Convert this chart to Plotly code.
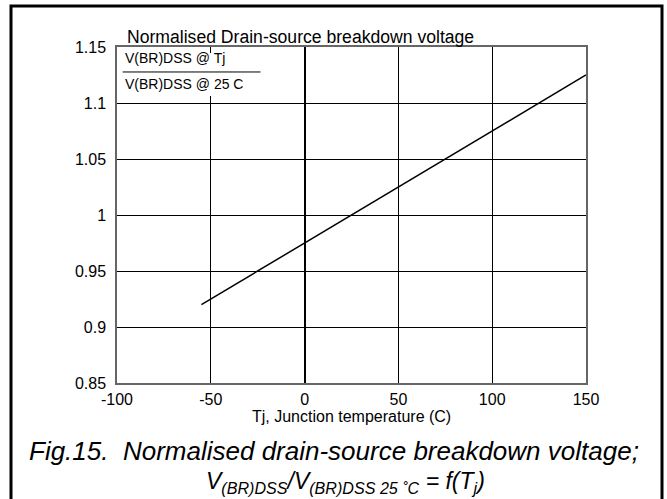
import plotly.graph_objects as go

# Data
temp_c = [-55, 150]
ratio = [0.92, 1.125]
x_ticks = [-100, -50, 0, 50, 100, 150]
x_tick_labels = ["-100", "-50", "0", "50", "100", "150"]
y_ticks = [0.85, 0.9, 0.95, 1.0, 1.05, 1.1, 1.15]
y_tick_labels = ["0.85", "0.9", "0.95", "1", "1.05", "1.1", "1.15"]

FONT = "Liberation Sans, Arial, sans-serif"

fig = go.Figure()
fig.add_trace(go.Scatter(x=temp_c, y=ratio, mode="lines",
                         line=dict(color="black", width=1.5),
                         showlegend=False, hoverinfo="skip"))

W, H = 667, 499
L, R, T, B = 117, 81, 47, 116
pw, ph = W - L - R, H - T - B

def px_x(p):
    return (p - L) / pw

def px_y(p):
    return (H - B - p) / ph

fig.update_layout(
    width=W, height=H,
    margin=dict(l=L, r=R, t=T, b=B),
    paper_bgcolor="white", plot_bgcolor="white",
    font=dict(family=FONT, size=16, color="black"),
    xaxis=dict(range=[-100, 150], tickvals=x_ticks, ticktext=x_tick_labels,
               showgrid=True, gridcolor="black", gridwidth=1, zeroline=True,
               zerolinecolor="black", zerolinewidth=2,
               showline=True, linecolor="#666666", linewidth=1.5, mirror=True,
               ticks="outside", ticklen=1, tickcolor="white",
               tickfont=dict(size=16)),
    yaxis=dict(range=[0.85, 1.15], tickvals=y_ticks, ticktext=y_tick_labels,
               showgrid=True, gridcolor="black", gridwidth=1, zeroline=False,
               showline=True, linecolor="#666666", linewidth=1.5, mirror=True,
               ticks="outside", ticklen=6, tickcolor="white",
               tickfont=dict(size=16)),
)

# White box for inset label
fig.add_shape(type="rect", xref="x", yref="y", x0=-99.3, x1=-22, y0=1.1063, y1=1.1446,
              fillcolor="white", line=dict(width=0), layer="above")
fig.add_shape(type="line", xref="x", yref="y", x0=-97, x1=-23.5, y0=1.1277, y1=1.1277,
              line=dict(color="black", width=1), layer="above")

annotations = [
    dict(text="Normalised Drain-source breakdown voltage", x=px_x(125), y=px_y(37),
         xanchor="left", yanchor="middle", font=dict(size=17.6)),
    dict(text="V(BR)DSS @ Tj", x=px_x(123), y=px_y(58), xanchor="left", yanchor="middle",
         font=dict(size=14)),
    dict(text="V(BR)DSS @ 25 C", x=px_x(123), y=px_y(84), xanchor="left", yanchor="middle",
         font=dict(size=14)),
    dict(text="Tj, Junction temperature (C)", x=px_x(351), y=px_y(416),
         xanchor="center", yanchor="middle", font=dict(size=16)),
    dict(text="<i>Fig.15.  Normalised drain-source breakdown voltage;</i>", x=px_x(334), y=px_y(451),
         xanchor="center", yanchor="middle", font=dict(size=26)),
    dict(text="<i>V<sub>(BR)DSS</sub>/V<sub>(BR)DSS 25 ˚C</sub> = f(T<sub>j</sub>)</i>",
         x=px_x(345), y=px_y(482), xanchor="center", yanchor="middle", font=dict(size=23)),
]
for a in annotations:
    a.update(xref="paper", yref="paper", showarrow=False)
    fig.add_annotation(**a)

# Outer frame
fig.add_shape(type="rect", xref="paper", yref="paper",
              x0=px_x(11), x1=px_x(662), y0=px_y(502), y1=px_y(6),
              line=dict(color="black", width=3), fillcolor="rgba(0,0,0,0)")

fig.write_html("out.html", config={"displayModeBar": False},
               post_script="document.body.style.margin='0';")
